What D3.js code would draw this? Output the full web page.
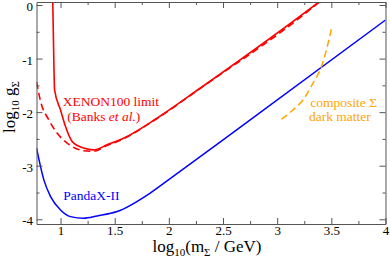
<!DOCTYPE html>
<html>
<head>
<meta charset="utf-8">
<script src="https://cdn.jsdelivr.net/npm/d3@7"></script>
</head>
<body style="margin:0">
<svg width="390" height="260"></svg>
<script>
// x = log10(m / GeV), y = log10 g
const xenonX = [0.928, 0.938, 0.945, 1.0, 1.046, 1.108, 1.214, 1.304, 1.43, 1.582, 1.89, 2.288, 3.385, 3.42];
const xenonY = [0.1, -1.026, -1.586, -1.96, -2.27, -2.55, -2.67, -2.705, -2.61, -2.487, -2.114, -1.554, 0.056, 0.11];

const banksX = [0.779, 0.816, 0.892, 0.95, 1.076, 1.214, 1.304, 1.43, 1.582, 1.89, 2.288, 3.385, 3.42];
const banksY = [-1.437, -1.80, -2.145, -2.34, -2.6, -2.72, -2.73, -2.625, -2.495, -2.12, -1.56, 0.05, 0.11];

const pandaX = [0.779, 0.846, 0.908, 1.0, 1.092, 1.214, 1.338, 1.522, 1.828, 1.996, 2.626, 4.0];
const pandaY = [-2.674, -3.265, -3.576, -3.825, -3.95, -3.98, -3.937, -3.856, -3.51, -3.265, -2.332, -0.28];

const compositeX = [3.040, 3.146, 3.238, 3.330, 3.408, 3.454, 3.500];
const compositeY = [-2.132, -1.959, -1.772, -1.461, -1.151, -0.840, -0.453];

const xTicks = [1, 1.5, 2, 2.5, 3, 3.5, 4];
const yTicks = [0, -1, -2, -3, -4];

const svg = d3.select('svg');
const margin = {top: 2, right: 4.5, bottom: 36, left: 36.5};
const width = +svg.attr('width') - margin.left - margin.right;
const height = +svg.attr('height') - margin.top - margin.bottom;
const g = svg.append('g')
  .attr('transform', `translate(${margin.left},${margin.top})`);

const x = d3.scaleLinear()
  .domain([Math.log10(6), 4])
  .range([0, width]);

const y = d3.scaleLinear()
  .domain([-4.088, 0.056])
  .range([height, 0]);

g.append('clipPath')
  .attr('id', 'clip')
  .append('rect')
    .attr('width', width)
    .attr('height', height);

const line = d3.line()
  .x(d => x(d[0]))
  .y(d => y(d[1]))
  .curve(d3.curveMonotoneX);

const curves = [
  {xs: banksX, ys: banksY, color: '#ff0000', dash: '7,4', w: 1.6},
  {xs: xenonX, ys: xenonY, color: '#ff0000', dash: null, w: 1.6},
  {xs: pandaX, ys: pandaY, color: '#0000ff', dash: null, w: 1.5},
  {xs: compositeX, ys: compositeY, color: '#ffa500', dash: '7,4', w: 1.5}
];

g.append('g')
  .attr('clip-path', 'url(#clip)')
  .selectAll('path')
  .data(curves)
  .enter().append('path')
    .attr('fill', 'none')
    .attr('stroke', d => d.color)
    .attr('stroke-width', d => d.w)
    .attr('stroke-dasharray', d => d.dash)
    .attr('d', d => line(d3.zip(d.xs, d.ys)));

// frame with inward ticks on all four sides
const axisColor = '#555';
const xMinor = d3.range(1, 4.001, 0.25).filter(v => !xTicks.includes(v));
const yMinor = d3.range(-4, 0.001, 0.5).filter(v => !yTicks.includes(v));

const axes = [
  {axis: d3.axisBottom(x), pos: `translate(0,${height})`, ticks: xTicks, minor: xMinor, pad: 2},
  {axis: d3.axisTop(x), pos: 'translate(0,0)', ticks: xTicks, minor: xMinor, pad: null},
  {axis: d3.axisLeft(y), pos: 'translate(0,0)', ticks: yTicks, minor: yMinor, pad: 3.5},
  {axis: d3.axisRight(y), pos: `translate(${width},0)`, ticks: yTicks, minor: yMinor, pad: null}
];

axes.forEach(a => {
  // minor ticks
  g.append('g')
    .attr('transform', a.pos)
    .call(a.axis.tickValues(a.minor).tickSizeInner(-3).tickSizeOuter(0).tickFormat(''))
    .call(s => s.select('.domain').remove())
    .selectAll('line').attr('stroke', axisColor);
  // major ticks
  const ax = g.append('g')
    .attr('transform', a.pos)
    .call(a.axis.tickValues(a.ticks).tickSizeInner(-6).tickSizeOuter(0)
      .tickPadding(a.pad || 0)
      .tickFormat(a.pad ? d => String(d) : ''));
  ax.select('.domain').attr('stroke', axisColor);
  ax.selectAll('line').attr('stroke', axisColor);
  ax.selectAll('text')
    .attr('fill', '#000')
    .style('font-size', '13px');
});

// nudge the y labels down a little, the top one sits on the frame
g.selectAll('.tick text').filter(function() { return this.getAttribute('x') !== null && +this.getAttribute('x') < 0; })
  .attr('dy', '0.42em');

// axis titles
const xt = svg.append('text')
  .attr('x', 207)
  .attr('y', 252)
  .attr('text-anchor', 'middle')
  .style('font-size', '17px');
xt.append('tspan').text('log');
xt.append('tspan').attr('dy', 4).style('font-size', '11px').text('10');
xt.append('tspan').attr('dy', -4).text('(m');
xt.append('tspan').attr('dy', 4).style('font-size', '11px').text('Σ');
xt.append('tspan').attr('dy', -4).text(' / GeV)');

const yt = svg.append('text')
  .attr('transform', `translate(15,${margin.top + height / 2 - 6}) rotate(-90)`)
  .attr('text-anchor', 'middle')
  .style('font-size', '17px');
yt.append('tspan').text('log');
yt.append('tspan').attr('dy', 4).style('font-size', '11px').text('10');
yt.append('tspan').attr('dy', -4).text(' g');
yt.append('tspan').attr('dy', 4).style('font-size', '11px').text('Σ');

// curve annotations
const note = g.append('g');
note.append('text')
  .attr('x', x(1.02)).attr('y', y(-1.894))
  .attr('fill', '#ff0000')
  .text('XENON100 limit');
const banks = note.append('text')
  .attr('x', x(1.062)).attr('y', y(-2.164))
  .attr('fill', '#ff0000');
banks.append('tspan').text('(Banks ');
banks.append('tspan').style('font-style', 'italic').text('et al.');
banks.append('tspan').text(')');
note.append('text')
  .attr('x', x(1.025)).attr('y', y(-3.64))
  .attr('fill', '#0000ff')
  .text('PandaX-II');
note.append('text')
  .attr('x', x(3.306)).attr('y', y(-1.903))
  .attr('fill', '#ffa500')
  .text('composite Σ');
note.append('text')
  .attr('x', x(3.293)).attr('y', y(-2.174))
  .attr('fill', '#ffa500')
  .text('dark matter');
note.selectAll('text').style('font-size', '13.5px');

// one serif face for every text, set last so the axis defaults do not win
svg.selectAll('text').style('font-family', '"Liberation Serif"');
</script>
</body>
</html>
